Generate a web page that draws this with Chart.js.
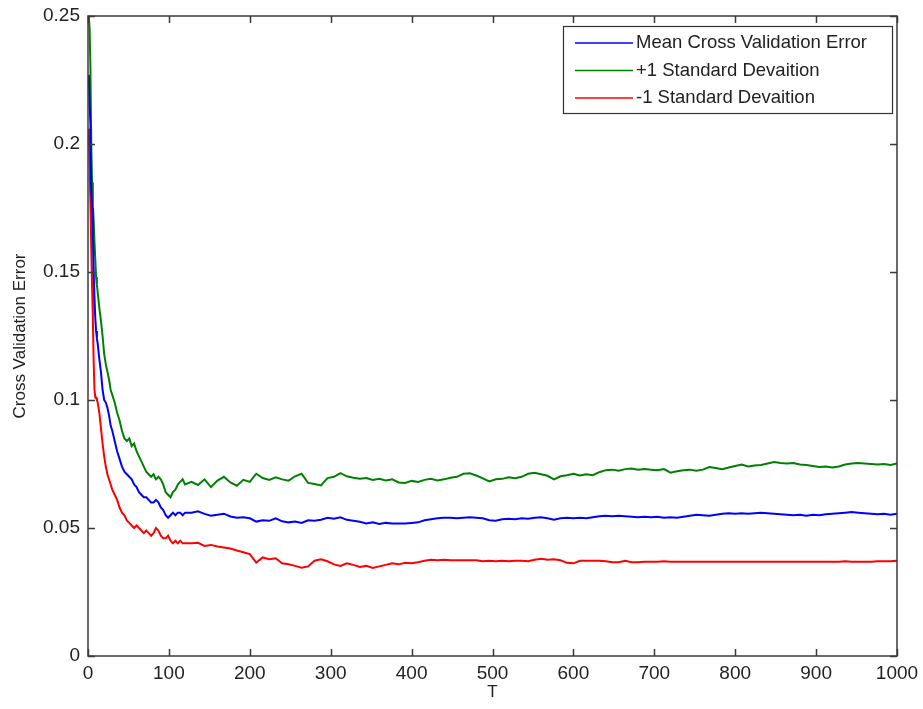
<!doctype html>
<html lang="en">
<head>
    <meta charset="utf-8">
    <title>Cross Validation Error</title>
    <script src="https://cdn.jsdelivr.net/npm/chart.js"></script>
    <style>
        html, body { margin: 0; padding: 0; background: #fff; }
        #wrap { width: 923px; height: 709px; }
    </style>
</head>
<body>
    <div id="wrap"><canvas id="cvChart" width="923" height="709"></canvas></div>
    <script type="text/javascript">
        // T values (number of iterations)
        var tValues = [
            1, 2, 3, 4, 5, 6, 7, 8, 9, 10, 11, 12, 14, 16, 18, 20, 22, 24, 26, 28, 30,
            33, 36, 39, 42, 45, 48, 51, 54, 57, 60,
            63, 66, 69, 72, 75, 78, 81, 84, 87, 90,
            93, 96, 99, 102, 105, 108, 111, 114, 117, 120,
            128, 136, 144, 152, 160, 168, 176, 184, 192, 200,
            208, 216, 224, 232, 240, 248, 256, 264, 272, 280,
            288, 296, 304, 312, 320, 328, 336, 344, 352, 360,
            368, 376, 384, 392, 400, 408, 416, 424, 432, 440,
            448, 456, 464, 472, 480, 488, 496, 504, 512, 520,
            528, 536, 544, 552, 560, 568, 576, 584, 592, 600,
            608, 616, 624, 632, 640, 648, 656, 664, 672, 680,
            688, 696, 704, 712, 720, 728, 736, 744, 752, 760,
            768, 776, 784, 792, 800, 808, 816, 824, 832, 840,
            848, 856, 864, 872, 880, 888, 896, 904, 912, 920,
            928, 936, 944, 952, 960, 968, 976, 984, 992, 1000
        ];

        // Mean cross validation error
        var meanError = [
            0.227, 0.215, 0.208, 0.182, 0.175, 0.165, 0.150, 0.140, 0.132, 0.127, 0.124, 0.122, 0.116, 0.111, 0.104, 0.100, 0.099, 0.097, 0.094, 0.090, 0.088,
            0.084, 0.080, 0.077, 0.074, 0.072, 0.071, 0.070, 0.069, 0.067, 0.066,
            0.064, 0.063, 0.062, 0.062, 0.061, 0.060, 0.060, 0.061, 0.060, 0.058,
            0.057, 0.055, 0.054, 0.055, 0.056, 0.055, 0.056, 0.056, 0.055, 0.056,
            0.0560, 0.0565, 0.0555, 0.0548, 0.0552, 0.0556, 0.0545, 0.0540, 0.0542, 0.0538,
            0.0525, 0.0530, 0.0528, 0.0538, 0.0526, 0.0522, 0.0525, 0.0520, 0.0530, 0.0528,
            0.0532, 0.0540, 0.0536, 0.0542, 0.0532, 0.0528, 0.0524, 0.0518, 0.0522, 0.0516,
            0.0520, 0.0518, 0.0518, 0.0518, 0.0520, 0.0522, 0.0530, 0.0534, 0.0538, 0.0540,
            0.0540, 0.0538, 0.0540, 0.0542, 0.0540, 0.0538, 0.0530, 0.0528, 0.0534, 0.0536,
            0.0534, 0.0538, 0.0536, 0.0540, 0.0542, 0.0538, 0.0532, 0.0538, 0.0540, 0.0538,
            0.0540, 0.0538, 0.0542, 0.0546, 0.0548, 0.0546, 0.0548, 0.0546, 0.0544, 0.0542,
            0.0544, 0.0542, 0.0544, 0.0540, 0.0542, 0.0540, 0.0544, 0.0548, 0.0552, 0.0550,
            0.0548, 0.0552, 0.0556, 0.0558, 0.0556, 0.0558, 0.0556, 0.0558, 0.0560, 0.0558,
            0.0556, 0.0554, 0.0552, 0.0550, 0.0552, 0.0548, 0.0552, 0.0550, 0.0554, 0.0556,
            0.0558, 0.0560, 0.0562, 0.0560, 0.0558, 0.0556, 0.0554, 0.0556, 0.0552, 0.0556
        ];

        // +1 standard deviation
        var plusOneSd = [
            0.250, 0.245, 0.230, 0.200, 0.185, 0.176, 0.170, 0.162, 0.155, 0.148, 0.145, 0.142, 0.136, 0.131, 0.125, 0.118, 0.114, 0.111, 0.108, 0.104, 0.102,
            0.099, 0.095, 0.092, 0.088, 0.085, 0.084, 0.085, 0.082, 0.083, 0.080,
            0.078, 0.076, 0.074, 0.072, 0.071, 0.070, 0.071, 0.069, 0.070, 0.069,
            0.067, 0.064, 0.063, 0.062, 0.064, 0.065, 0.067, 0.068, 0.069, 0.067,
            0.0680, 0.0668, 0.0690, 0.0660, 0.0685, 0.0700, 0.0678, 0.0665, 0.0688, 0.0680,
            0.0712, 0.0695, 0.0688, 0.0698, 0.0690, 0.0685, 0.0702, 0.0712, 0.0676, 0.0672,
            0.0666, 0.0695, 0.0700, 0.0714, 0.0702, 0.0696, 0.0692, 0.0695, 0.0688, 0.0692,
            0.0686, 0.0690, 0.0678, 0.0676, 0.0684, 0.0680, 0.0688, 0.0692, 0.0686, 0.0690,
            0.0696, 0.0700, 0.0712, 0.0714, 0.0705, 0.0694, 0.0682, 0.0690, 0.0692, 0.0698,
            0.0694, 0.0700, 0.0712, 0.0716, 0.0710, 0.0704, 0.0690, 0.0702, 0.0706, 0.0712,
            0.0705, 0.0710, 0.0706, 0.0718, 0.0726, 0.0728, 0.0724, 0.0730, 0.0732, 0.0728,
            0.0730, 0.0728, 0.0726, 0.0730, 0.0716, 0.0722, 0.0726, 0.0728, 0.0724, 0.0728,
            0.0738, 0.0734, 0.0730, 0.0736, 0.0742, 0.0748, 0.0740, 0.0744, 0.0746, 0.0752,
            0.0758, 0.0754, 0.0752, 0.0754, 0.0748, 0.0746, 0.0742, 0.0738, 0.0740, 0.0736,
            0.0740, 0.0748, 0.0752, 0.0754, 0.0752, 0.0750, 0.0748, 0.0750, 0.0746, 0.0752
        ];

        // -1 standard deviation
        var minusOneSd = [
            0.206, 0.192, 0.177, 0.160, 0.145, 0.132, 0.115, 0.104, 0.101, 0.101, 0.100, 0.099, 0.095, 0.089, 0.083, 0.078, 0.074, 0.071, 0.069, 0.067, 0.065,
            0.063, 0.061, 0.058, 0.056, 0.055, 0.053, 0.052, 0.051, 0.050, 0.051,
            0.050, 0.049, 0.048, 0.049, 0.048, 0.047, 0.048, 0.050, 0.049, 0.047,
            0.046, 0.046, 0.047, 0.045, 0.044, 0.045, 0.044, 0.045, 0.044, 0.044,
            0.0440, 0.0442, 0.0430, 0.0434, 0.0428, 0.0424, 0.0420, 0.0412, 0.0405, 0.0398,
            0.0365, 0.0385, 0.0378, 0.0382, 0.0362, 0.0358, 0.0352, 0.0345, 0.0350, 0.0372,
            0.0378, 0.0370, 0.0358, 0.0352, 0.0362, 0.0356, 0.0348, 0.0352, 0.0344, 0.0350,
            0.0356, 0.0362, 0.0358, 0.0364, 0.0362, 0.0366, 0.0372, 0.0376, 0.0374, 0.0376,
            0.0374, 0.0374, 0.0374, 0.0374, 0.0374, 0.0370, 0.0372, 0.0370, 0.0372, 0.0370,
            0.0372, 0.0372, 0.0370, 0.0376, 0.0380, 0.0376, 0.0378, 0.0374, 0.0364, 0.0362,
            0.0372, 0.0372, 0.0372, 0.0372, 0.0370, 0.0366, 0.0366, 0.0372, 0.0366, 0.0366,
            0.0368, 0.0368, 0.0368, 0.0370, 0.0368, 0.0368, 0.0368, 0.0368, 0.0368, 0.0368,
            0.0368, 0.0368, 0.0368, 0.0368, 0.0368, 0.0368, 0.0368, 0.0368, 0.0368, 0.0368,
            0.0368, 0.0368, 0.0368, 0.0368, 0.0368, 0.0368, 0.0368, 0.0368, 0.0368, 0.0368,
            0.0368, 0.0370, 0.0368, 0.0368, 0.0368, 0.0368, 0.0370, 0.0370, 0.0370, 0.0372
        ];

        var seriesNames = ['Mean Cross Validation Error', '+1 Standard Devaition', '-1 Standard Devaition'];
        var seriesColors = ['#0000ff', '#008000', '#ff0000'];

        var xTicks = [0, 100, 200, 300, 400, 500, 600, 700, 800, 900, 1000];
        var xTickLabels = ['0', '100', '200', '300', '400', '500', '600', '700', '800', '900', '1000'];
        var yTicks = [0, 0.05, 0.1, 0.15, 0.2, 0.25];
        var yTickLabels = ['0', '0.05', '0.1', '0.15', '0.2', '0.25'];

        var fontFam = '"Liberation Sans", Arial, sans-serif';

        function pairs(vals) {
            return tValues.map(function (t, i) { return { x: t, y: vals[i] }; });
        }

        // Box with inward ticks (matlab style) + legend
        var matlabFrame = {
            id: 'matlabFrame',
            afterDatasetsDraw: function (chart) {
                var ctx = chart.ctx, a = chart.chartArea;
                var xs = chart.scales.x, ys = chart.scales.y;
                ctx.save();
                ctx.strokeStyle = '#3a3a3a';
                ctx.lineWidth = 1.5;
                ctx.strokeRect(a.left, a.top, a.right - a.left, a.bottom - a.top);
                ctx.beginPath();
                xTicks.forEach(function (v) {
                    var px = Math.round(xs.getPixelForValue(v)) + 0.5;
                    ctx.moveTo(px, a.bottom); ctx.lineTo(px, a.bottom - 7);
                    ctx.moveTo(px, a.top); ctx.lineTo(px, a.top + 7);
                });
                yTicks.forEach(function (v) {
                    var py = Math.round(ys.getPixelForValue(v)) + 0.5;
                    ctx.moveTo(a.left, py); ctx.lineTo(a.left + 7, py);
                    ctx.moveTo(a.right, py); ctx.lineTo(a.right - 7, py);
                });
                ctx.stroke();

                // legend
                var lx = a.right - 334, ly = a.top + 10, lw = 329, lh = 87;
                ctx.fillStyle = '#fff';
                ctx.fillRect(lx, ly, lw, lh);
                ctx.strokeStyle = '#333';
                ctx.lineWidth = 1.2;
                ctx.strokeRect(lx + 0.5, ly + 0.5, lw, lh);
                ctx.font = '18.5px ' + fontFam;
                ctx.textBaseline = 'middle';
                chart.data.datasets.forEach(function (ds, i) {
                    var ry = ly + 17 + i * 27.5;
                    ctx.strokeStyle = ds.borderColor;
                    ctx.lineWidth = 1.5;
                    ctx.beginPath();
                    ctx.moveTo(lx + 12, ry); ctx.lineTo(lx + 70, ry);
                    ctx.stroke();
                    ctx.fillStyle = '#222';
                    ctx.fillText(ds.label, lx + 73, ry);
                });
                ctx.restore();
            }
        };

        var ctx = document.getElementById('cvChart').getContext('2d');
        var cvChart = new Chart(ctx, {
            type: 'line',
            data: {
                datasets: [0, 1, 2].map(function (i) {
                    return {
                        label: seriesNames[i],
                        data: pairs([meanError, plusOneSd, minusOneSd][i]),
                        borderColor: seriesColors[i],
                        borderWidth: 2,
                        pointRadius: 0,
                        tension: 0,
                        fill: false
                    };
                })
            },
            options: {
                responsive: false,
                animation: false,
                devicePixelRatio: 1,
                layout: { padding: { left: 0, right: 26, top: 16, bottom: 0 } },
                plugins: {
                    legend: { display: false },
                    tooltip: { enabled: false }
                },
                scales: {
                    x: {
                        type: 'linear',
                        min: 0,
                        max: 1000,
                        grid: { display: false, drawTicks: false },
                        border: { display: false },
                        afterBuildTicks: function (s) { s.ticks = xTicks.map(function (v) { return { value: v }; }); },
                        afterFit: function (s) { s.height = 53; s.paddingLeft = 0; s.paddingRight = 0; },
                        ticks: {
                            padding: 6,
                            color: '#222',
                            maxRotation: 0,
                            font: { family: fontFam, size: 19 },
                            callback: function (v) { return xTickLabels[xTicks.indexOf(v)]; }
                        },
                        title: {
                            display: true,
                            text: 'T',
                            color: '#222',
                            padding: { top: 0, bottom: 6 },
                            font: { family: fontFam, size: 17 }
                        }
                    },
                    y: {
                        min: 0,
                        max: 0.25,
                        grid: { display: false, drawTicks: false },
                        border: { display: false },
                        afterBuildTicks: function (s) { s.ticks = yTicks.map(function (v) { return { value: v }; }); },
                        afterFit: function (s) { s.width = 88; s.paddingTop = 0; s.paddingBottom = 0; },
                        ticks: {
                            padding: 8,
                            color: '#222',
                            font: { family: fontFam, size: 19 },
                            callback: function (v) { return yTickLabels[yTicks.indexOf(v)]; }
                        },
                        title: {
                            display: true,
                            text: 'Cross Validation Error',
                            color: '#222',
                            padding: { top: 10, bottom: 0 },
                            font: { family: fontFam, size: 17 }
                        }
                    }
                }
            },
            plugins: [matlabFrame]
        });
    </script>
</body>
</html>
